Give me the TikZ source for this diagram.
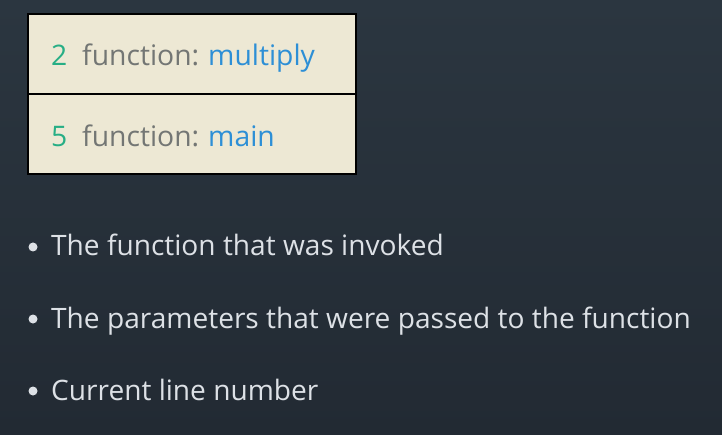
\documentclass[tikz,border=0pt]{standalone}
\usepackage{fontspec}
\setmainfont{Open Sans}
\definecolor{bgtop}{HTML}{2B3640}
\definecolor{bgbot}{HTML}{222A33}
\definecolor{boxfill}{HTML}{EDE8D4}
\definecolor{numgreen}{HTML}{27AE85}
\definecolor{fngray}{HTML}{737674}
\definecolor{fnblue}{HTML}{2D8FD6}
\definecolor{bultext}{HTML}{DDE1E6}
\begin{document}
\begin{tikzpicture}[x=1pt,y=-1pt,
  frame/.style={draw=black,line width=1.8pt,fill=boxfill,minimum width=328pt,minimum height=80pt,anchor=north west,inner sep=0pt},
  num/.style={font=\fontsize{28.3}{30}\selectfont,text=numgreen,anchor=base west,inner sep=0pt},
  fn/.style={font=\fontsize{28.3}{30}\selectfont,text=fngray,anchor=base west,inner sep=0pt},
  dot/.style={circle,fill=bultext,inner sep=0pt,minimum size=9pt},
  bul/.style={font=\fontsize{28.1}{30}\selectfont,text=bultext,anchor=base west,inner sep=0pt}]
\shade[top color=bgtop,bottom color=bgbot] (0,0) rectangle (722,435);
\useasboundingbox (0,0) rectangle (722,435);
\node[frame] (box1) at (27,13.5) {};
\node[frame] (box2) at (27,93.5) {};
\node[num] (n1) at (51,66) {2};
\node[fn] (f1) at (82,66) {function:\hspace{0.32em}\textcolor{fnblue}{multiply}};
\node[num] (n2) at (51,147) {5};
\node[fn] (f2) at (82,147) {function:\hspace{0.32em}\textcolor{fnblue}{main}};
\node[dot] (b1) at (33,247) {};
\node[bul] (t1) at (51,256) {The function that was invoked};
\node[dot] (b2) at (33,319) {};
\node[bul] (t2) at (51,328) {The parameters that were passed to the function};
\node[dot] (b3) at (33,391) {};
\node[bul] (t3) at (51,400) {Current line number};
\end{tikzpicture}
\end{document}
